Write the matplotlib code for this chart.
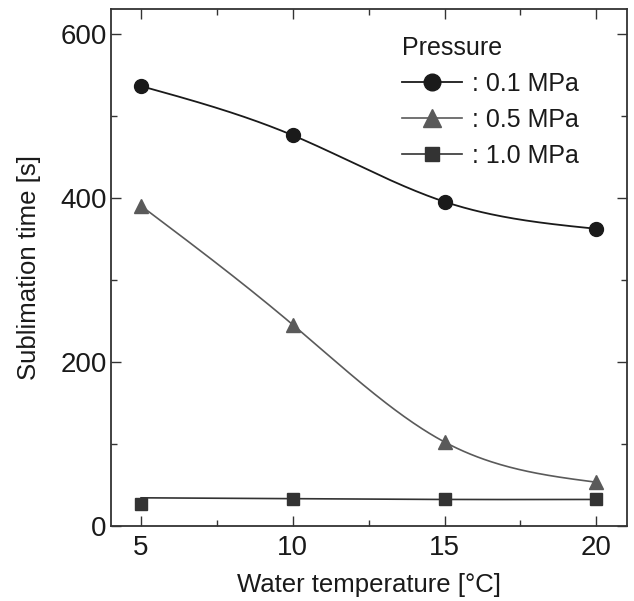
import numpy as np
import matplotlib
matplotlib.use("Agg")
import matplotlib.pyplot as plt
from matplotlib.lines import Line2D

plt.rcParams['font.family'] = ['Liberation Sans', 'DejaVu Sans']

# ---- data ----
temps = [5, 10, 15, 20]
p01_vals = [536, 476, 395, 362]
p05_vals = [390, 245, 102, 53]
p10_vals = [27, 33, 32, 32]
p10_curve = [34, 33, 32, 32]   # smoothed curve drawn for 1.0 MPa
series_labels = [": 0.1 MPa", ": 0.5 MPa", ": 1.0 MPa"]
legend_title = "Pressure"
xlabel = "Water temperature [\u00b0C]"
ylabel = "Sublimation time [s]"
xticks = [5, 10, 15, 20]
yticks = [0, 200, 400, 600]


def natural_spline(x, y, n=200):
    x = np.asarray(x, float)
    y = np.asarray(y, float)
    k = len(x)
    h = np.diff(x)
    A = np.zeros((k, k))
    b = np.zeros(k)
    A[0, 0] = 1
    A[-1, -1] = 1
    for i in range(1, k - 1):
        A[i, i - 1] = h[i - 1]
        A[i, i] = 2 * (h[i - 1] + h[i])
        A[i, i + 1] = h[i]
        b[i] = 3 * ((y[i + 1] - y[i]) / h[i] - (y[i] - y[i - 1]) / h[i - 1])
    c = np.linalg.solve(A, b)
    xs = np.linspace(x[0], x[-1], n)
    ys = np.empty_like(xs)
    for j, xv in enumerate(xs):
        i = min(np.searchsorted(x, xv, side='right') - 1, k - 2)
        dx = xv - x[i]
        bi = (y[i + 1] - y[i]) / h[i] - h[i] * (2 * c[i] + c[i + 1]) / 3
        di = (c[i + 1] - c[i]) / (3 * h[i])
        ys[j] = y[i] + bi * dx + c[i] * dx ** 2 + di * dx ** 3
    return xs, ys


fig = plt.figure(figsize=(6.34, 6.01), dpi=100)
ax = fig.add_axes([0.1746, 0.1253, 0.9885 - 0.1746, 0.985 - 0.1253])

c01 = '#1a1a1a'
c05 = '#5a5a5a'
c10 = '#333333'

xs, ys = natural_spline(temps, p01_vals)
ax.plot(xs, ys, color=c01, lw=1.3)
ax.plot(temps, p01_vals, 'o', color=c01, ms=10, mec=c01)

xs, ys = natural_spline(temps, p05_vals)
ax.plot(xs, ys, color=c05, lw=1.2)
ax.plot(temps, p05_vals, '^', color=c05, ms=10.5, mec=c05)

xs, ys = natural_spline(temps, p10_curve)
ax.plot(xs, ys, color=c10, lw=1.2)
ax.plot(temps, p10_vals, 's', color=c10, ms=9, mec=c10)

ax.set_xlim(4, 21)
ax.set_ylim(0, 630)
ax.set_xticks(xticks)
ax.set_xticks([7.5, 12.5, 17.5], minor=True)
ax.set_yticks(yticks)
ax.set_yticks([100, 300, 500], minor=True)
ax.tick_params(which='both', direction='in', top=True, right=True,
               color='#333333', width=1.0)
ax.tick_params(which='major', length=7, labelsize=20, labelcolor='#1a1a1a')
ax.tick_params(axis='y', which='major', pad=3)
ax.tick_params(axis='x', which='major', pad=7)
ax.tick_params(which='minor', length=4)
for s in ax.spines.values():
    s.set_color('#333333')
    s.set_linewidth(1.3)

ax.set_xlabel(xlabel, fontsize=18.5, labelpad=8, color='#1a1a1a')
ax.set_ylabel(ylabel, fontsize=18.5, labelpad=14, color='#1a1a1a')

handles = [
    Line2D([], [], color=c01, marker='o', ms=12, lw=1.3),
    Line2D([], [], color=c05, marker='^', ms=13, lw=1.2),
    Line2D([], [], color=c10, marker='s', ms=10.5, lw=1.2),
]
leg = ax.legend(handles, series_labels, title=legend_title, frameon=False,
                loc='upper left', bbox_to_anchor=(0.545, 0.967),
                fontsize=18, title_fontsize=18, handlelength=2.4,
                handletextpad=0.4, labelspacing=0.48, alignment='left',
                borderaxespad=0)
for t in leg.get_texts():
    t.set_color('#1a1a1a')
leg.get_title().set_color('#1a1a1a')

fig.savefig('out.png', dpi=100)
